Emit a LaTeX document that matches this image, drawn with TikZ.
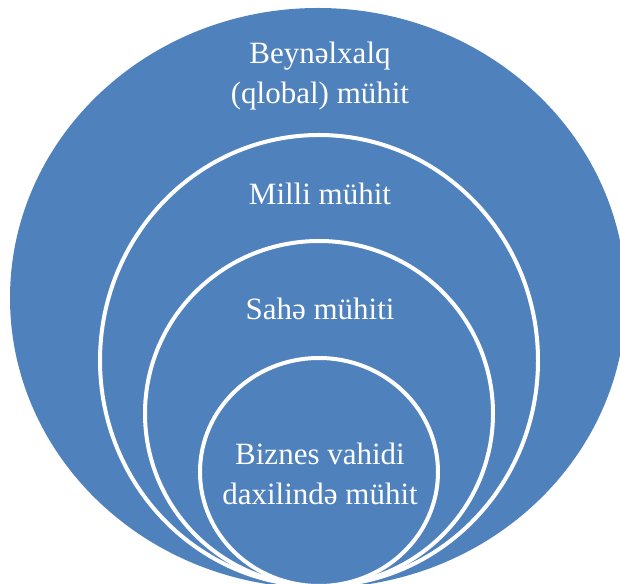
\documentclass[tikz,border=0pt]{standalone}
\usepackage{fontspec}
\setmainfont{Liberation Serif}
\definecolor{ringblue}{HTML}{4F81BD}
\begin{document}
\begin{tikzpicture}[x=1pt,y=1pt,
  ring/.style={fill=ringblue,draw=white,line width=4pt},
  lbl/.style={text=white,font=\fontsize{31}{40}\selectfont,align=center,anchor=base,inner sep=0pt}]
\useasboundingbox (0,0) rectangle (620,583);
\clip (0,0) rectangle (620,583);
\fill[ringblue] (318,285) ellipse [x radius=308, y radius=290];
\draw[ring] (319,222.5) ellipse [x radius=219, y radius=225.5];
\draw[ring] (319,169.5) ellipse [x radius=174, y radius=172.5];
\draw[ring] (319,111) ellipse [x radius=119, y radius=114];
\node[lbl] (glob) at (320,479) {Beynəlxalq\\(qlobal) mühit};
\node[lbl] (mil) at (320,378) {Milli mühit};
\node[lbl] (sah) at (320,263) {Sahə mühiti};
\node[lbl] (biz) at (320,78) {Biznes vahidi\\daxilində mühit};
\end{tikzpicture}
\end{document}
